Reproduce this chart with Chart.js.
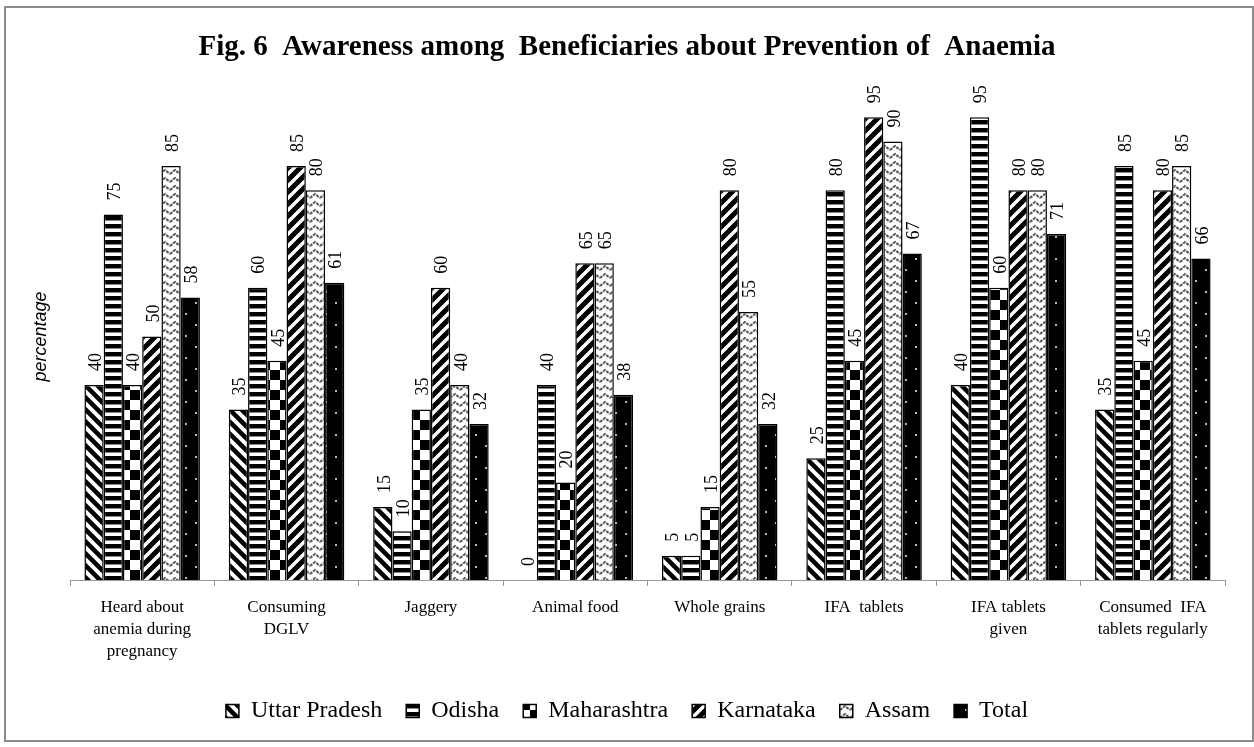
<!DOCTYPE html>
<html>
<head>
<meta charset="utf-8">
<script src="https://cdn.jsdelivr.net/npm/chart.js@4.4.0/dist/chart.umd.min.js"></script>
<style>
  body { margin: 0; background: #fff; }
  #frame { position: absolute; left: 4px; top: 6px; width: 1246px; height: 732px; border: 2px solid #8c8c8c; }
  #wrap { position: absolute; left: 0; top: 0; width: 1254px; height: 747px; }
</style>
</head>
<body>
<div id="frame"></div>
<div id="wrap"><canvas id="myChart" width="1254" height="747"></canvas></div>
<script>
const categorias = [
  ['Heard about', 'anemia during', 'pregnancy'],
  ['Consuming', 'DGLV'],
  'Jaggery',
  'Animal food',
  'Whole grains',
  'IFA  tablets',
  ['IFA tablets', 'given'],
  ['Consumed  IFA', 'tablets regularly']
]
const uttarPradesh = [40, 35, 15, 0, 5, 25, 40, 35]
const odisha = [75, 60, 10, 40, 5, 80, 95, 85]
const maharashtra = [40, 45, 35, 20, 15, 45, 60, 45]
const karnataka = [50, 85, 60, 65, 80, 95, 80, 80]
const assam = [85, 80, 40, 65, 55, 90, 80, 85]
const total = [58, 61, 32, 38, 32, 67, 71, 66]

// padroes de preenchimento
function tile(w, h, draw) {
  const c = document.createElement('canvas')
  c.width = w; c.height = h
  const g = c.getContext('2d')
  g.fillStyle = '#fff'
  g.fillRect(0, 0, w, h)
  draw(g)
  return document.getElementById('myChart').getContext('2d').createPattern(c, 'repeat')
}

const padUP = tile(12, 12, g => {
  g.strokeStyle = '#000'; g.lineWidth = 4.5
  g.beginPath()
  g.moveTo(-6, -6); g.lineTo(18, 18)
  g.moveTo(-18, -6); g.lineTo(6, 18)
  g.moveTo(6, -6); g.lineTo(30, 18)
  g.stroke()
})
const padOdisha = tile(8, 8, g => {
  g.fillStyle = '#000'; g.fillRect(0, 0, 8, 4)
  g.fillStyle = '#888'; g.fillRect(0, 4, 8, 1)
})
const padMaha = tile(20, 20, g => {
  g.fillStyle = '#000'
  g.fillRect(0, 0, 10, 10)
  g.fillRect(10, 10, 10, 10)
})
const padKarn = tile(12, 12, g => {
  g.strokeStyle = '#000'; g.lineWidth = 5
  g.beginPath()
  g.moveTo(-6, 18); g.lineTo(18, -6)
  g.moveTo(-18, 18); g.lineTo(6, -6)
  g.moveTo(6, 18); g.lineTo(30, -6)
  g.stroke()
})
const padAssam = tile(10, 8, g => {
  g.strokeStyle = '#555'; g.lineWidth = 2
  g.setLineDash([3, 1])
  g.beginPath()
  g.moveTo(0, 6); g.lineTo(5, 2); g.lineTo(10, 6)
  g.stroke()
})
const padTotal = tile(20, 22, g => {
  g.fillStyle = '#000'; g.fillRect(0, 0, 20, 22)
  g.fillStyle = '#bbb'
  g.fillRect(5, 5, 2, 2)
  g.fillRect(15, 16, 2, 2)
})

// rotulos verticais sobre as barras
const rotulos = {
  id: 'rotulos',
  afterDatasetsDraw(chart) {
    const ctx = chart.ctx
    ctx.save()
    ctx.fillStyle = '#000'
    ctx.font = '18px "Liberation Serif", serif'
    ctx.textAlign = 'left'
    ctx.textBaseline = 'middle'
    chart.data.datasets.forEach((ds, i) => {
      chart.getDatasetMeta(i).data.forEach((bar, j) => {
        ctx.save()
        ctx.translate(bar.x + 2, bar.y - 14)
        ctx.rotate(-Math.PI / 2)
        ctx.fillText(ds.data[j], 0, 0)
        ctx.restore()
      })
    })
    ctx.restore()
  }
}

const canvas = document.getElementById('myChart')
const ctx = canvas.getContext('2d')

const chart = new Chart(ctx, {
  type: 'bar',
  data: {
    labels: categorias,
    datasets: [
      { label: 'Uttar Pradesh', data: uttarPradesh, backgroundColor: padUP },
      { label: 'Odisha', data: odisha, backgroundColor: padOdisha },
      { label: 'Maharashtra', data: maharashtra, backgroundColor: padMaha },
      { label: 'Karnataka', data: karnataka, backgroundColor: padKarn },
      { label: 'Assam', data: assam, backgroundColor: padAssam },
      { label: 'Total', data: total, backgroundColor: padTotal }
    ].map(d => Object.assign(d, { borderColor: '#000', borderWidth: 1.5, categoryPercentage: 0.8, barPercentage: 1 }))
  },
  options: {
    responsive: false,
    animation: false,
    layout: { padding: { left: 0, right: 0, top: 0, bottom: 14 } },
    plugins: {
      title: {
        display: true,
        text: 'Fig. 6  Awareness among  Beneficiaries about Prevention of  Anaemia',
        color: '#000',
        font: { family: '"Liberation Serif", serif', size: 29, weight: 'bold' },
        padding: { top: 30, bottom: 28 }
      },
      legend: {
        position: 'bottom',
        labels: {
          color: '#000',
          boxWidth: 13,
          boxHeight: 13,
          padding: 24,
          font: { family: '"Liberation Serif", serif', size: 24 }
        }
      },
      tooltip: { enabled: false }
    },
    scales: {
      x: {
        grid: { display: true, drawOnChartArea: false, tickLength: 6, color: '#999', offset: true },
        border: { color: '#999' },
        ticks: {
          color: '#000',
          maxRotation: 0,
          autoSkip: false,
          padding: 10,
          font: { family: '"Liberation Serif", serif', size: 17, lineHeight: 1.3 }
        },
        afterFit(s) { s.height = 95 }
      },
      y: {
        min: 0,
        max: 100,
        grid: { display: false },
        border: { display: false },
        ticks: { display: false },
        title: {
          display: true,
          text: 'percentage',
          color: '#000',
          font: { family: '"Liberation Sans", sans-serif', size: 18, style: 'italic' },
          padding: { top: 30, bottom: 0 }
        },
        afterFit(s) { s.width = 70 }
      },
      margem: {
        position: 'right',
        min: 0,
        max: 1,
        grid: { display: false },
        border: { display: false },
        ticks: { display: false },
        afterFit(s) { s.width = 29 }
      }
    }
  },
  plugins: [rotulos]
})
</script>
</body>
</html>
